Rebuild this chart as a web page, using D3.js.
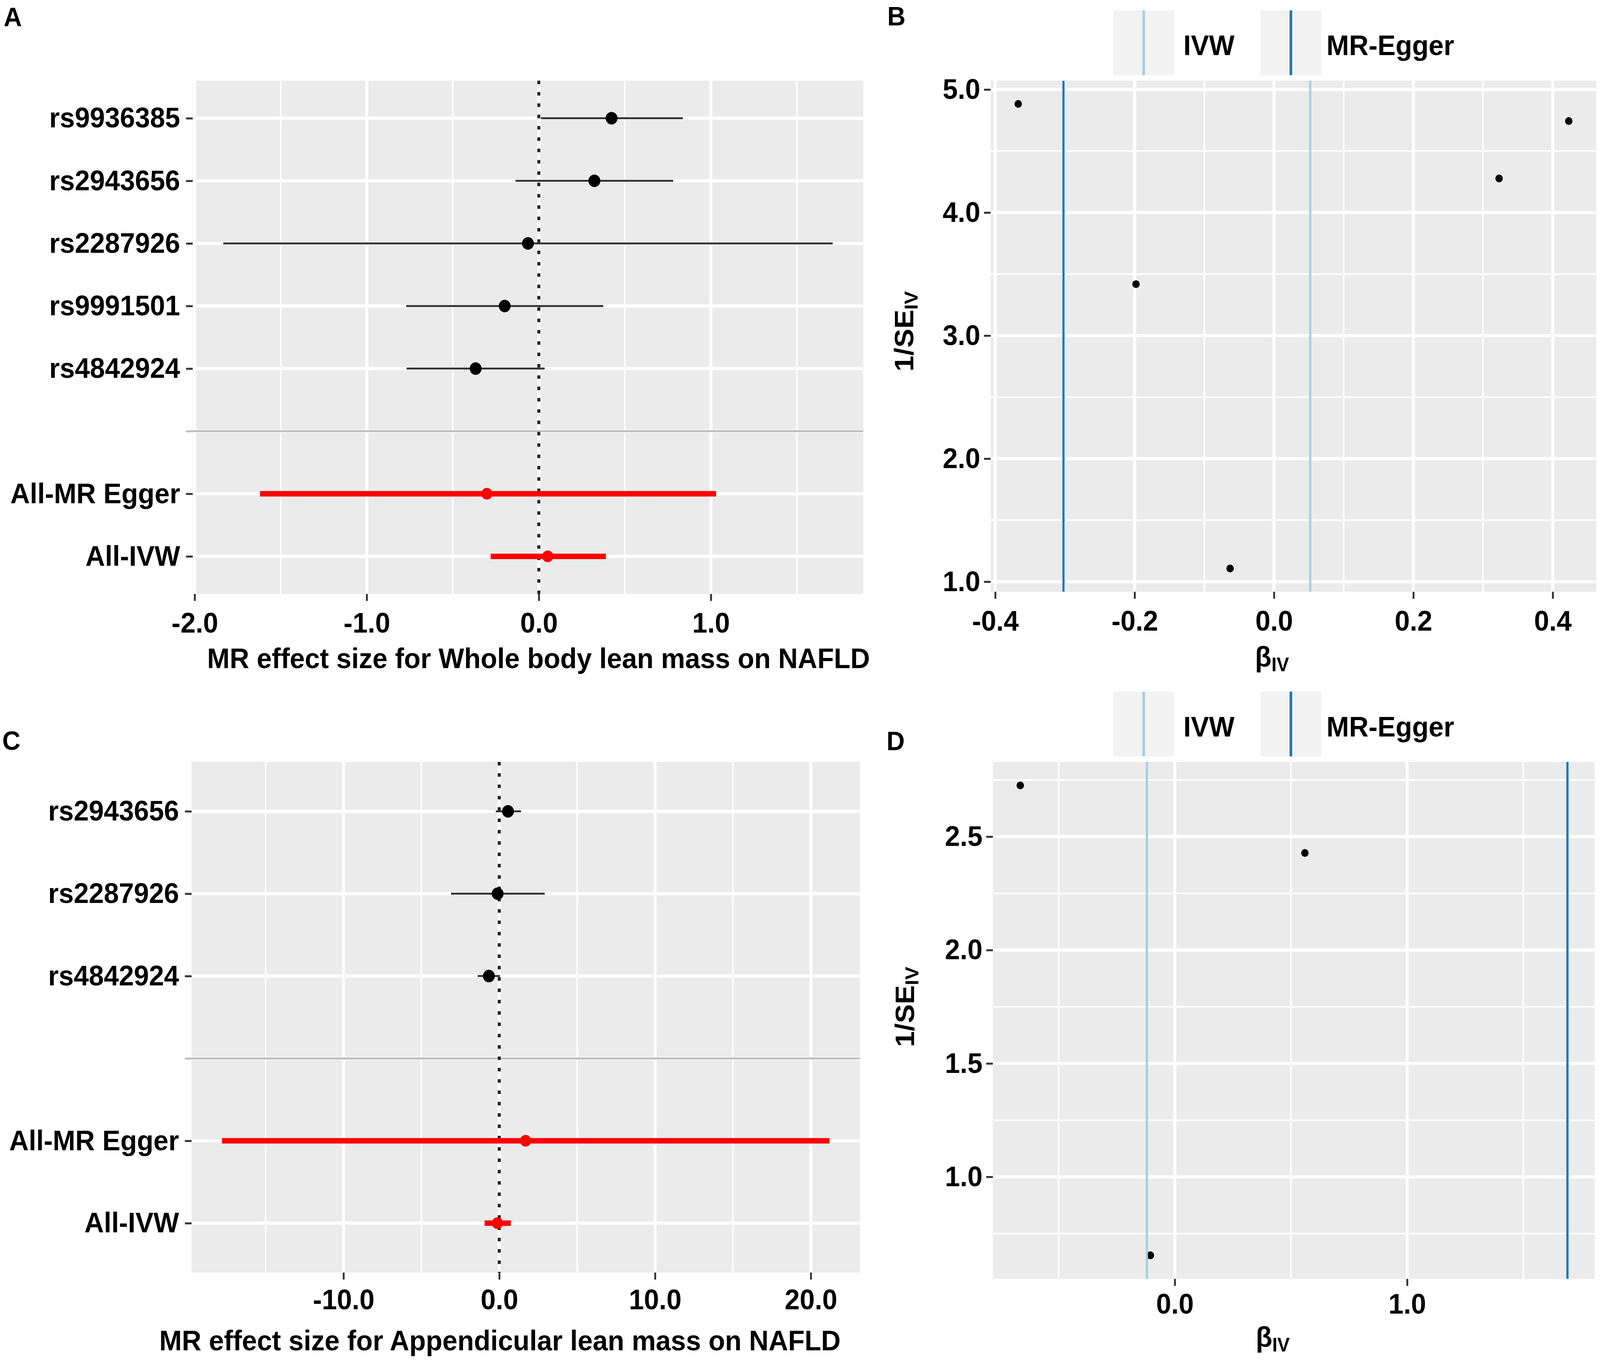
<!DOCTYPE html>
<html><head><meta charset="utf-8">
<script src="https://cdn.jsdelivr.net/npm/d3@7"></script>
<style>
html,body{margin:0;padding:0;background:#fff;overflow:hidden;width:100%;height:100%;}
svg{display:block;width:100vw;height:100vh;}
</style>
</head><body>
<script>
// ================= DATA =================
// Panel A: forest plot, Whole body lean mass on NAFLD
const snpsA   = ["rs9936385","rs2943656","rs2287926","rs9991501","rs4842924"];
const estA    = [0.423, 0.323, -0.063, -0.198, -0.367];
const loA     = [0.012, -0.135, -1.834, -0.771, -0.768];
const hiA     = [0.837, 0.781, 1.708, 0.375, 0.034];
const sumLabels = ["All-MR Egger","All-IVW"];
const sumEstA = [-0.302, 0.052];
const sumLoA  = [-1.62, -0.28];
const sumHiA  = [1.03, 0.39];
const xTicksA = [-2, -1, 0, 1];
const xTitleA = "MR effect size for Whole body lean mass on NAFLD";

// Panel B: funnel plot (same SNPs as A)
const invSEB  = [4.744, 4.277, 1.107, 3.418, 4.883];
const ivwB    = 0.052;
const eggerB  = -0.302;
const xTicksB = [-0.4, -0.2, 0, 0.2, 0.4];
const yTicksB = [1, 2, 3, 4, 5];

// Panel C: forest plot, Appendicular lean mass on NAFLD
const snpsC   = ["rs2943656","rs2287926","rs4842924"];
const estC    = [0.56, -0.105, -0.665];
const loC     = [-0.22, -3.10, -1.38];
const hiC     = [1.40, 2.92, 0.05];
const sumEstC = [1.69, -0.12];
const sumLoC  = [-17.8, -0.94];
const sumHiC  = [21.2, 0.74];
const xTicksC = [-10, 0, 10, 20];
const xTitleC = "MR effect size for Appendicular lean mass on NAFLD";

// Panel D: funnel plot (same SNPs as C)
const invSED  = [2.428, 0.654, 2.726];
const ivwD    = -0.12;
const eggerD  = 1.69;
const xTicksD = [0, 1];
const yTicksD = [1.0, 1.5, 2.0, 2.5];

const legendLabels = ["IVW", "MR-Egger"];
const legendColors = ["#a6cee3", "#1f78b4"];

// ================= DRAWING =================
const W = 4317, H = 3491;
const FS = 73;
const svg = d3.select("body").append("svg")
  .attr("viewBox", `0 0 ${W} ${H}`).attr("preserveAspectRatio", "none")
  .style("font-family", "'Liberation Sans', Arial, Helvetica, sans-serif")
  .style("font-weight", "bold");
svg.append("rect").attr("width", W).attr("height", H).attr("fill", "#fff");

const fmt = d => d.toFixed(1);
function expand(vals, m = 0.05) { const [a, b] = d3.extent(vals); const r = b - a; return [a - m * r, b + m * r]; }
function minorOf(ticks, domain) {
  const step = ticks[1] - ticks[0];
  const ext = [ticks[0] - step, ...ticks, ticks[ticks.length - 1] + step];
  const out = [];
  for (let i = 0; i < ext.length - 1; i++) out.push((ext[i] + ext[i + 1]) / 2);
  return out.filter(v => v > domain[0] && v < domain[1]);
}
function panelBg(g, box) {
  g.append("rect").attr("x", box.l).attr("y", box.t)
    .attr("width", box.r - box.l).attr("height", box.b - box.t).attr("fill", "#ebebeb");
}
function vgrid(g, x, vals, box, w) {
  g.selectAll(null).data(vals).enter().append("line")
    .attr("x1", d => x(d)).attr("x2", d => x(d)).attr("y1", box.t).attr("y2", box.b)
    .attr("stroke", "#fff").attr("stroke-width", w);
}
function hgrid(g, y, vals, box, w) {
  g.selectAll(null).data(vals).enter().append("line")
    .attr("y1", d => y(d)).attr("y2", d => y(d)).attr("x1", box.l).attr("x2", box.r)
    .attr("stroke", "#fff").attr("stroke-width", w);
}
function styleAxis(ax) {
  ax.select(".domain").remove();
  ax.selectAll(".tick line").attr("stroke", "#333").attr("stroke-width", 5);
  ax.selectAll(".tick text").attr("fill", "#000").style("font-size", FS + "px")
    .style("font-weight", "bold").style("font-family", "'Liberation Sans', Arial, sans-serif");
}
function letter(t, x, y) {
  svg.append("text").attr("x", x).attr("y", y).text(t).style("font-size", "68px").attr("fill", "#000");
}

function forest(o) {
  const g = svg.append("g");
  const cats = [...o.snps, "", ...sumLabels];
  const N = cats.length;
  const posOf = i => N - i;
  const y = d3.scaleLinear().domain([0.4, N + 0.6]).range([o.box.b, o.box.t]);
  const xd = expand([...o.lo, ...o.hi, ...o.sumLo, ...o.sumHi, 0]);
  const x = d3.scaleLinear().domain(xd).range([o.box.l, o.box.r]);
  panelBg(g, o.box);
  vgrid(g, x, minorOf(o.xTicks, xd), o.box, 4);
  vgrid(g, x, o.xTicks, o.box, 8);
  hgrid(g, y, cats.map((c, i) => posOf(i)), o.box, 8);
  const sepPos = posOf(o.snps.length);
  g.append("line").attr("x1", o.box.l).attr("x2", o.box.r).attr("y1", y(sepPos)).attr("y2", y(sepPos))
    .attr("stroke", "#bebebe").attr("stroke-width", 5);
  g.append("line").attr("x1", x(0)).attr("x2", x(0)).attr("y1", o.box.t).attr("y2", o.box.b)
    .attr("stroke", "#222").attr("stroke-width", 8).attr("stroke-dasharray", "9 20");
  const snpData = o.snps.map((s, i) => ({ p: posOf(i), e: o.est[i], lo: o.lo[i], hi: o.hi[i] }));
  const sumData = sumLabels.map((s, j) => ({ p: posOf(o.snps.length + 1 + j), e: o.sumEst[j], lo: o.sumLo[j], hi: o.sumHi[j] }));
  g.selectAll(null).data(snpData).enter().append("line")
    .attr("x1", d => x(d.lo)).attr("x2", d => x(d.hi)).attr("y1", d => y(d.p)).attr("y2", d => y(d.p))
    .attr("stroke", "#333").attr("stroke-width", 5);
  g.selectAll(null).data(sumData).enter().append("line")
    .attr("x1", d => x(d.lo)).attr("x2", d => x(d.hi)).attr("y1", d => y(d.p)).attr("y2", d => y(d.p))
    .attr("stroke", "#ff0000").attr("stroke-width", 14);
  g.selectAll(null).data(snpData).enter().append("circle")
    .attr("cx", d => x(d.e)).attr("cy", d => y(d.p)).attr("r", 16).attr("fill", "#000");
  g.selectAll(null).data(sumData).enter().append("circle")
    .attr("cx", d => x(d.e)).attr("cy", d => y(d.p)).attr("r", 15).attr("fill", "#ff0000");
  const ax = g.append("g").attr("transform", `translate(0,${o.box.b})`)
    .call(d3.axisBottom(x).tickValues(o.xTicks).tickFormat(fmt).tickSize(18).tickPadding(o.xPad));
  styleAxis(ax);
  const ay = g.append("g").attr("transform", `translate(${o.box.l},0)`)
    .call(d3.axisLeft(y).tickValues(cats.map((c, i) => posOf(i))).tickFormat(p => cats[N - p]).tickSize(18).tickPadding(16));
  styleAxis(ay);
  ay.selectAll(".tick line").filter(p => cats[N - p] === "").attr("stroke", "#bebebe");
  g.append("text").attr("x", o.titleX).attr("y", o.titleY).attr("text-anchor", "middle")
    .style("font-size", FS + "px").attr("fill", "#000").text(o.title);
}

function funnel(o) {
  const g = svg.append("g");
  const xd = expand([...o.beta, o.ivw, o.egger]);
  const yd = expand(o.inv);
  const x = d3.scaleLinear().domain(xd).range([o.box.l, o.box.r]);
  const y = d3.scaleLinear().domain(yd).range([o.box.b, o.box.t]);
  panelBg(g, o.box);
  vgrid(g, x, minorOf(o.xTicks, xd), o.box, 4);
  hgrid(g, y, minorOf(o.yTicks, yd), o.box, 4);
  vgrid(g, x, o.xTicks, o.box, 8);
  hgrid(g, y, o.yTicks, o.box, 8);
  const pts = o.beta.map((b, i) => ({ b, s: o.inv[i] }));
  g.selectAll(null).data(pts).enter().append("circle")
    .attr("cx", d => x(d.b)).attr("cy", d => y(d.s)).attr("r", 10).attr("fill", "#000");
  const vl = [{ v: o.ivw, c: legendColors[0] }, { v: o.egger, c: legendColors[1] }];
  g.selectAll(null).data(vl).enter().append("line")
    .attr("x1", d => x(d.v)).attr("x2", d => x(d.v)).attr("y1", o.box.t).attr("y2", o.box.b)
    .attr("stroke", d => d.c).attr("stroke-width", 6);
  const ax = g.append("g").attr("transform", `translate(0,${o.box.b})`)
    .call(d3.axisBottom(x).tickValues(o.xTicks).tickFormat(fmt).tickSize(18).tickPadding(o.xPad));
  styleAxis(ax);
  const ay = g.append("g").attr("transform", `translate(${o.box.l},0)`)
    .call(d3.axisLeft(y).tickValues(o.yTicks).tickFormat(fmt).tickSize(18).tickPadding(10));
  styleAxis(ay);
  const tx = g.append("text").attr("x", o.xTitleX).attr("y", o.xTitleY).attr("text-anchor", "middle")
    .style("font-size", FS + "px").attr("fill", "#000");
  tx.append("tspan").text("β");
  tx.append("tspan").attr("dy", 12).style("font-size", "50px").text("IV");
  const ty = g.append("text").attr("transform", `translate(${o.yTitleX},${o.yTitleY}) rotate(-90)`)
    .attr("text-anchor", "middle").style("font-size", FS + "px").attr("fill", "#000");
  ty.append("tspan").text("1/SE");
  ty.append("tspan").attr("dy", 12).style("font-size", "50px").text("IV");
  const lt = o.box.t - 180;
  const keys = [{ x: 3004, tx: 3193 }, { x: 3401, tx: 3579 }];
  keys.forEach((k, i) => {
    g.append("rect").attr("x", k.x).attr("y", lt).attr("width", 164).attr("height", 166).attr("fill", "#f2f2f2");
    g.append("line").attr("x1", k.x + 82).attr("x2", k.x + 82).attr("y1", lt).attr("y2", lt + 166)
      .attr("stroke", legendColors[i]).attr("stroke-width", 7);
    g.append("text").attr("x", k.tx).attr("y", lt + 115).style("font-size", FS + "px").attr("fill", "#000").text(legendLabels[i]);
  });
}

forest({ box: { l: 520, r: 2329, t: 206.5, b: 1520 }, snps: snpsA, est: estA, lo: loA, hi: hiA,
  sumEst: sumEstA, sumLo: sumLoA, sumHi: sumHiA, xTicks: xTicksA, xPad: 29,
  title: xTitleA, titleX: 1453, titleY: 1710 });
funnel({ box: { l: 2673, r: 4307, t: 206.5, b: 1514.5 }, beta: estA, inv: invSEB, ivw: ivwB, egger: eggerB,
  xTicks: xTicksB, yTicks: yTicksB, xPad: 30, xTitleX: 3432, xTitleY: 1706, yTitleX: 2464, yTitleY: 848 });
forest({ box: { l: 517, r: 2320, t: 1950, b: 3257 }, snps: snpsC, est: estC, lo: loC, hi: hiC,
  sumEst: sumEstC, sumLo: sumLoC, sumHi: sumHiC, xTicks: xTicksC, xPad: 24,
  title: xTitleC, titleX: 1349, titleY: 3456 });
funnel({ box: { l: 2679, r: 4303, t: 1950, b: 3273 }, beta: estC, inv: invSED, ivw: ivwD, egger: eggerD,
  xTicks: xTicksD, yTicks: yTicksD, xPad: 19, xTitleX: 3434, xTitleY: 3447, yTitleX: 2466, yTitleY: 2577 });

letter("A", 10, 67);
letter("B", 2394, 65);
letter("C", 6, 1919);
letter("D", 2392, 1920);
</script>
</body></html>
